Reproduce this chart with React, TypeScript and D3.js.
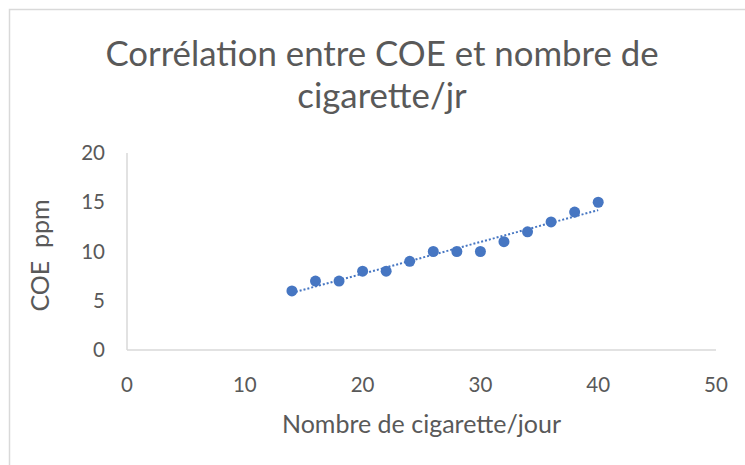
import React from "react";
import * as d3 from "d3";

const cigarettes = [14, 16, 18, 20, 22, 24, 26, 28, 30, 32, 34, 36, 38, 40];
const coePpm = [6, 7, 7, 8, 8, 9, 10, 10, 10, 11, 12, 13, 14, 15];
const xTicks = [0, 10, 20, 30, 40, 50];
const yTicks = [0, 5, 10, 15, 20];
const titleLines = ["Corrélation entre COE et nombre de", "cigarette/jr"];
const xTitle = "Nombre de cigarette/jour";
const yTitle = "COE  ppm";

const W = 745;
const H = 465;
const FONT = "Lato, 'Open Sans', sans-serif";
const TEXT = "#595959";
const AXIS = "#d9d9d9";
const BLUE = "#4676c2";

export default function App() {
  const x = d3.scaleLinear().domain([0, 50]).range([127, 716]);
  const y = d3.scaleLinear().domain([0, 20]).range([350, 153]);

  const pts = cigarettes.map((c, i) => ({ c, v: coePpm[i] }));
  const mx = d3.mean(cigarettes) as number;
  const my = d3.mean(coePpm) as number;
  const sxy = d3.sum(pts, (p) => (p.c - mx) * (p.v - my));
  const sxx = d3.sum(pts, (p) => (p.c - mx) * (p.c - mx));
  const slope = sxy / sxx;
  const icpt = my - slope * mx;
  const [x0, x1] = d3.extent(cigarettes) as [number, number];
  const trend = d3.line<number>()
    .x((d) => x(d))
    .y((d) => y(icpt + slope * d))([x0, x1]);

  return (
    <svg
      width={W}
      height={H}
      style={{ position: "absolute", left: 0, top: 0, background: "#fff" }}
      fontFamily={FONT}
    >
      <rect x={0} y={0} width={W} height={H} fill="#fff" />
      <rect x={9.5} y={9.5} width={W + 20} height={H + 20} fill="none" stroke={AXIS} strokeWidth={1.5} />

      {titleLines.map((t, i) => (
        <text key={i} x={382} y={66 + i * 42} textAnchor="middle" fontSize={34.8} fill={TEXT}>
          {t}
        </text>
      ))}

      <line x1={x(0)} x2={x(0)} y1={y(20)} y2={y(0)} stroke={AXIS} strokeWidth={1.5} />
      <line x1={x(0)} x2={x(50)} y1={y(0)} y2={y(0)} stroke={AXIS} strokeWidth={1.5} />

      {yTicks.map((t) => (
        <text key={t} x={105} y={y(t)} dy="0.35em" textAnchor="end" fontSize={20.5} fill={TEXT}>
          {t}
        </text>
      ))}
      {xTicks.map((t) => (
        <text key={t} x={x(t)} y={392} textAnchor="middle" fontSize={20.5} fill={TEXT}>
          {t}
        </text>
      ))}

      <text x={(x(0) + x(50)) / 2} y={433} textAnchor="middle" fontSize={25} fill={TEXT}>
        {xTitle}
      </text>
      <text
        transform={`translate(49, ${(y(0) + y(20)) / 2 + 4}) rotate(-90)`}
        textAnchor="middle"
        fontSize={25}
        fill={TEXT}
        style={{ whiteSpace: "pre" }}
      >
        {yTitle}
      </text>

      <path d={trend ?? ""} fill="none" stroke={BLUE} strokeWidth={2} strokeDasharray="2 2" />
      {pts.map((p, i) => (
        <circle key={i} cx={x(p.c)} cy={y(p.v)} r={5.5} fill={BLUE} />
      ))}
    </svg>
  );
}
